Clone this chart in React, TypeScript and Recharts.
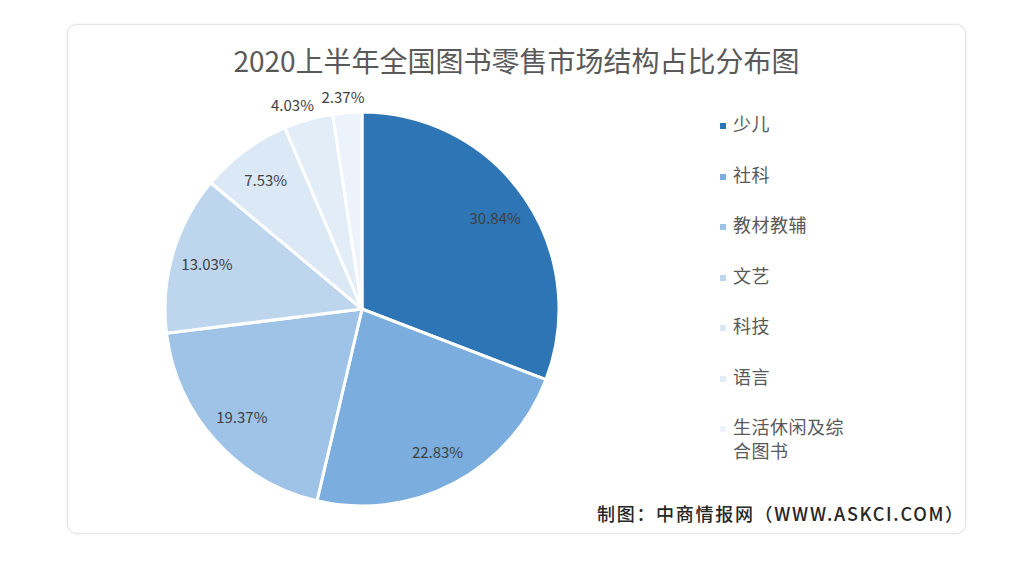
import React from 'react';
import { PieChart, Pie, Cell, Legend } from 'recharts';

const categories = ['少儿', '社科', '教材教辅', '文艺', '科技', '语言', '生活休闲及综合图书'];
const legendLines = [['少儿'], ['社科'], ['教材教辅'], ['文艺'], ['科技'], ['语言'], ['生活休闲及综', '合图书']];
const shares = [30.84, 22.83, 19.37, 13.03, 7.53, 4.03, 2.37];
const colors = ['#2e75b6', '#7badde', '#9ec3e7', '#bdd6ee', '#dbe8f6', '#e3edf8', '#edf3fa'];

const data = categories.map((name, i) => ({ name, value: shares[i] }));

const RADIAN = Math.PI / 180;
const FONT = '"Noto Sans CJK SC", "Noto Sans", sans-serif';

const renderLabel = (props: any) => {
  const { cx, cy, midAngle, outerRadius, value } = props;
  const outside = value < 5;
  const r = outside ? outerRadius + 16 : outerRadius * 0.82;
  const x = cx + r * Math.cos(-midAngle * RADIAN) * (outside ? 1.2 : 1);
  const y = cy + r * Math.sin(-midAngle * RADIAN);
  return (
    <text x={x} y={y} textAnchor="middle" dominantBaseline="central" fontSize={15} fill="#404040" fontFamily={FONT}>
      {value.toFixed(2)}%
    </text>
  );
};

const renderLegend = () => (
  <div style={{ fontFamily: FONT }}>
    {legendLines.map((lines, i) => (
      <div key={i} style={{ height: 50.5, display: 'flex', alignItems: 'flex-start', paddingTop: 12, boxSizing: 'border-box' }}>
        <div style={{ width: 6, height: 6, background: colors[i], marginTop: 11, marginRight: 7 }} />
        <div style={{ fontSize: 18, lineHeight: '23.5px', color: '#595959', letterSpacing: 0.5 }}>
          {lines.map((l, j) => (
            <div key={j}>{l}</div>
          ))}
        </div>
      </div>
    ))}
  </div>
);

export default function App() {
  return (
    <div style={{ position: 'absolute', left: 0, top: 0, width: 1025, height: 565, background: '#fff', fontFamily: FONT }}>
      <div
        style={{
          position: 'absolute',
          left: 67,
          top: 24,
          width: 897,
          height: 508,
          border: '1px solid #e4e4e4',
          borderRadius: 10,
          boxShadow: '0 0 3px rgba(0,0,0,0.08)',
          background: '#fff',
        }}
      />
      <div
        style={{
          position: 'absolute',
          left: 0,
          top: 40,
          width: 1033,
          textAlign: 'center',
          fontSize: 28,
          lineHeight: '40px',
          color: '#595959',
          letterSpacing: 0,
        }}
      >
        2020上半年全国图书零售市场结构占比分布图
      </div>
      <div style={{ position: 'absolute', left: 0, top: 0 }}>
        <PieChart width={1025} height={565} margin={{ top: 0, right: 0, bottom: 0, left: 0 }}>
          <Pie
            data={data}
            dataKey="value"
            nameKey="name"
            cx={362}
            cy={309}
            outerRadius={197}
            startAngle={90}
            endAngle={-270}
            stroke="#ffffff"
            strokeWidth={3}
            label={renderLabel}
            labelLine={false}
            isAnimationActive={false}
          >
            {data.map((d, i) => (
              <Cell key={d.name} fill={colors[i]} />
            ))}
          </Pie>
          <Legend
            layout="vertical"
            align="right"
            verticalAlign="top"
            content={renderLegend}
            wrapperStyle={{ position: 'absolute', left: 720, top: 100, width: 200 }}
          />
        </PieChart>
      </div>
      <div
        style={{
          position: 'absolute',
          left: 597,
          top: 500,
          fontSize: 18,
          lineHeight: '26px',
          color: '#262626',
          fontWeight: 500,
          letterSpacing: 1.7,
          whiteSpace: 'nowrap',
        }}
      >
        制图：中商情报网（WWW.ASKCI.COM）
      </div>
    </div>
  );
}
